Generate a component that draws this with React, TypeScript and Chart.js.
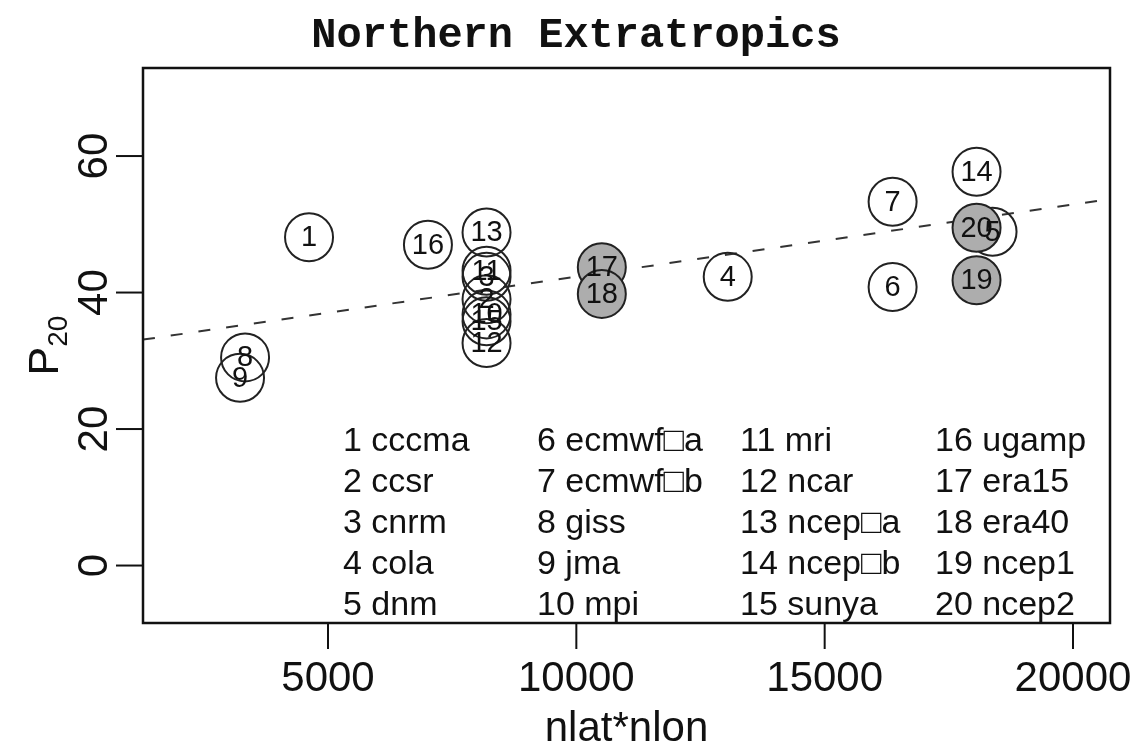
import React, { useEffect, useRef } from "react";
import { Chart, registerables } from "chart.js";

Chart.register(...registerables);

// ---- data ----
const modelIds = ["1", "2", "3", "4", "5", "6", "7", "8", "9", "10", "11", "12", "13", "14", "15", "16", "17", "18", "19", "20"];
const modelNames = ["cccma", "ccsr", "cnrm", "cola", "dnm", "ecmwf\u25A1a", "ecmwf\u25A1b", "giss", "jma", "mpi", "mri", "ncar", "ncep\u25A1a", "ncep\u25A1b", "sunya", "ugamp", "era15", "era40", "ncep1", "ncep2"];
const gridPoints = [4618, 8192, 8192, 13048, 18380, 16368, 16368, 3330, 3229, 8192, 8192, 8192, 8192, 18058, 8192, 7012, 10513, 10513, 18058, 18058];
const p20Values = [48.1, 39.0, 42.3, 42.3, 48.9, 40.8, 53.3, 30.5, 27.5, 36.8, 43.2, 32.6, 48.8, 57.7, 35.8, 47.0, 43.7, 39.8, 41.8, 49.5];
const reanalysisIds = ["17", "18", "19", "20"];
const trendX = [1275, 20745];
const trendY = [33.1, 53.7];
const xTicks = [5000, 10000, 15000, 20000];
const yTicks = [0, 20, 40, 60];
const xRange = [1275, 20745];
const yRange = [-8.42, 72.9];
const titleText = "Northern Extratropics";
const xTitle = "nlat*nlon";

const SANS = '"Liberation Sans", Arial, sans-serif';

const annotatePlugin = {
  id: "annotate",
  afterDatasetsDraw(chart: any) {
    const ctx = chart.ctx;
    ctx.save();
    ctx.font = `29px ${SANS}`;
    ctx.fillStyle = "#111";
    ctx.textAlign = "center";
    ctx.textBaseline = "middle";
    chart.data.datasets.forEach((ds: any, di: number) => {
      if (!ds.pointIds) return;
      const meta = chart.getDatasetMeta(di);
      meta.data.forEach((pt: any, i: number) => {
        ctx.fillText(ds.pointIds[i], pt.x, pt.y + 1);
      });
    });
    ctx.restore();
  },
  afterDraw(chart: any) {
    const ctx = chart.ctx;
    const a = chart.chartArea;
    const xs = chart.scales.x;
    const ys = chart.scales.y;
    ctx.save();
    // box
    ctx.strokeStyle = "#111";
    ctx.lineWidth = 2.5;
    ctx.strokeRect(a.left, a.top, a.right - a.left, a.bottom - a.top);
    // x ticks
    ctx.lineWidth = 2;
    ctx.fillStyle = "#111";
    ctx.font = `42px ${SANS}`;
    ctx.textAlign = "center";
    ctx.textBaseline = "alphabetic";
    xTicks.forEach((v) => {
      const px = xs.getPixelForValue(v);
      ctx.beginPath();
      ctx.moveTo(px, a.bottom);
      ctx.lineTo(px, a.bottom + 26);
      ctx.stroke();
      ctx.fillText(String(v), px, a.bottom + 68);
    });
    // y ticks
    yTicks.forEach((v) => {
      const py = ys.getPixelForValue(v);
      ctx.beginPath();
      ctx.moveTo(a.left, py);
      ctx.lineTo(a.left - 27, py);
      ctx.stroke();
      ctx.save();
      ctx.translate(a.left - 36, py);
      ctx.rotate(-Math.PI / 2);
      ctx.fillText(String(v), 0, 0);
      ctx.restore();
    });
    // x title
    ctx.fillText(xTitle, (a.left + a.right) / 2, 741);
    // y title P_20
    ctx.save();
    ctx.translate(58, (a.top + a.bottom) / 2);
    ctx.rotate(-Math.PI / 2);
    ctx.textAlign = "left";
    ctx.font = `43px ${SANS}`;
    const pw = ctx.measureText("P").width;
    ctx.font = `28px ${SANS}`;
    const sw = ctx.measureText("20").width;
    const start = -(pw + sw) / 2;
    ctx.font = `43px ${SANS}`;
    ctx.fillText("P", start, 0);
    ctx.font = `28px ${SANS}`;
    ctx.fillText("20", start + pw, 9);
    ctx.restore();
    // title
    ctx.font = `bold 42px "Liberation Mono", "Courier New", monospace`;
    ctx.textAlign = "center";
    ctx.fillText(titleText, 576, 47);
    // legend text
    ctx.font = `34px ${SANS}`;
    ctx.textAlign = "left";
    const colX = [343, 537, 740, 935];
    const rowY = [451, 492, 533, 574, 615];
    modelNames.forEach((name, i) => {
      const c = Math.floor(i / 5);
      const r = i % 5;
      ctx.fillText(`${modelIds[i]} ${name}`, colX[c], rowY[r]);
    });
    ctx.restore();
  },
};

export default function App() {
  const ref = useRef<HTMLCanvasElement | null>(null);
  useEffect(() => {
    if (!ref.current) return;
    const openIdx = modelIds.map((_, i) => i).filter((i) => !reanalysisIds.includes(modelIds[i]));
    const fillIdx = modelIds.map((_, i) => i).filter((i) => reanalysisIds.includes(modelIds[i]));
    const chart = new Chart(ref.current, {
      type: "scatter",
      data: {
        datasets: [
          {
            type: "scatter",
            data: fillIdx.map((i) => ({ x: gridPoints[i], y: p20Values[i] })),
            pointIds: fillIdx.map((i) => modelIds[i]),
            pointRadius: 24,
            pointBorderWidth: 2,
            pointBackgroundColor: "#adadad",
            pointBorderColor: "#222",
            order: 0,
          } as any,
          {
            type: "scatter",
            data: openIdx.map((i) => ({ x: gridPoints[i], y: p20Values[i] })),
            pointIds: openIdx.map((i) => modelIds[i]),
            pointRadius: 24,
            pointBorderWidth: 2,
            pointBackgroundColor: "rgba(0,0,0,0)",
            pointBorderColor: "#222",
            order: 1,
          } as any,
          {
            type: "line",
            data: trendX.map((x, i) => ({ x, y: trendY[i] })),
            borderColor: "#333",
            borderWidth: 2,
            borderDash: [12, 16],
            pointRadius: 0,
            fill: false,
            order: 2,
          } as any,
        ],
      },
      options: {
        responsive: false,
        animation: false,
        layout: { padding: { left: 143, right: 36, top: 68, bottom: 121 } },
        scales: {
          x: { type: "linear", min: xRange[0], max: xRange[1], display: false },
          y: { type: "linear", min: yRange[0], max: yRange[1], display: false },
        },
        plugins: { legend: { display: false }, tooltip: { enabled: false }, title: { display: false } },
        events: [],
      },
      plugins: [annotatePlugin],
    });
    return () => chart.destroy();
  }, []);
  return (
    <div style={{ position: "fixed", left: 0, top: 0, width: 1146, height: 744, background: "#fff" }}>
      <canvas ref={ref} width={1146} height={744} style={{ display: "block" }} />
    </div>
  );
}
